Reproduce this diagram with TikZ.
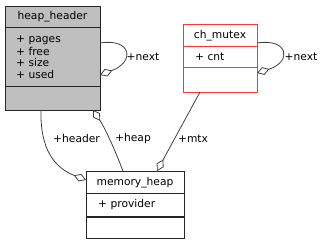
\documentclass[tikz,border=0pt]{standalone}
\usepackage{fontspec}
\setmainfont{DejaVu Sans}
\usetikzlibrary{arrows.meta}
\definecolor{boxgray}{HTML}{BFBFBF}
\definecolor{edgegray}{HTML}{404040}
\begin{document}
\begin{tikzpicture}[x=1pt,y=-1pt,
  font=\fontsize{10.7}{12}\selectfont,
  classbox/.style={draw=black!85, line width=1pt, minimum width=#1, inner sep=0pt, anchor=north west},
  sepline/.style={draw=black!85, line width=1pt},
  field/.style={anchor=west, inner sep=0pt},
  rel/.style={draw=edgegray, line width=0.8pt, -{Diamond[open, length=13pt, width=8pt]}},
  rellabel/.style={inner sep=1pt, text=black}]
\useasboundingbox (0,0) rectangle (323,245);

% heap_header
\node[classbox=95pt, fill=boxgray, minimum height=104pt] (hh) at (5,6) {};
\draw[sepline] (5,28) -- (100,28);
\draw[sepline] (5,87) -- (100,87);
\node (hht) at (52.5,17) {heap\_header};
\node[field] (hf1) at (16,40) {+ pages};
\node[field] (hf2) at (16,51.5) {+ free};
\node[field] (hf3) at (16,63) {+ size};
\node[field] (hf4) at (16,74.5) {+ used};

% ch_mutex
\node[classbox=74pt, draw=red!80, fill=white, minimum height=68pt] (cm) at (183,24) {};
\draw[sepline, draw=red!80] (183,47) -- (257,47);
\draw[sepline, draw=red!80] (183,68) -- (257,68);
\node (cmt) at (220,35.5) {ch\_mutex};
\node[field] (cf1) at (195,57) {+ cnt};

% memory_heap
\node[classbox=98pt, fill=white, minimum height=67pt] (mh) at (86,171) {};
\draw[sepline] (86,194) -- (184,194);
\draw[sepline] (86,217) -- (184,217);
\node (mht) at (135,182.5) {memory\_heap};
\node[field] (mf1) at (98,204.5) {+ provider};

% anchor points on the box outlines
\coordinate (hhloopA) at (100,43);
\coordinate (hhloopB) at (100,75);
\coordinate (cmloopA) at (257,43);
\coordinate (cmloopB) at (257,73);
\coordinate (hhbotL) at (41,110);
\coordinate (hhbotR) at (93,110);
\coordinate (cmbot) at (200,92);
\coordinate (mhleft) at (86,180);
\coordinate (mhtopL) at (123,171);
\coordinate (mhtopR) at (157,171);

% relations
\draw[rel] (hhloopA) .. controls (132,38) and (135,62) .. (hhloopB);
\node[rellabel] (l1) at (143,57) {+next};
\draw[rel] (cmloopA) .. controls (289,38) and (292,62) .. (cmloopB);
\node[rellabel] (l2) at (301,57) {+next};
\draw[rel] (hhbotL) .. controls (40,150) and (55,168) .. (mhleft);
\node[rellabel] (l3) at (76.5,139) {+header};
\draw[rel] (mhtopL) .. controls (115,150) and (105,128) .. (hhbotR);
\node[rellabel] (l4) at (133,139) {+heap};
\draw[rel] (cmbot) -- (mhtopR);
\node[rellabel] (l5) at (193,139) {+mtx};
\end{tikzpicture}
\end{document}
